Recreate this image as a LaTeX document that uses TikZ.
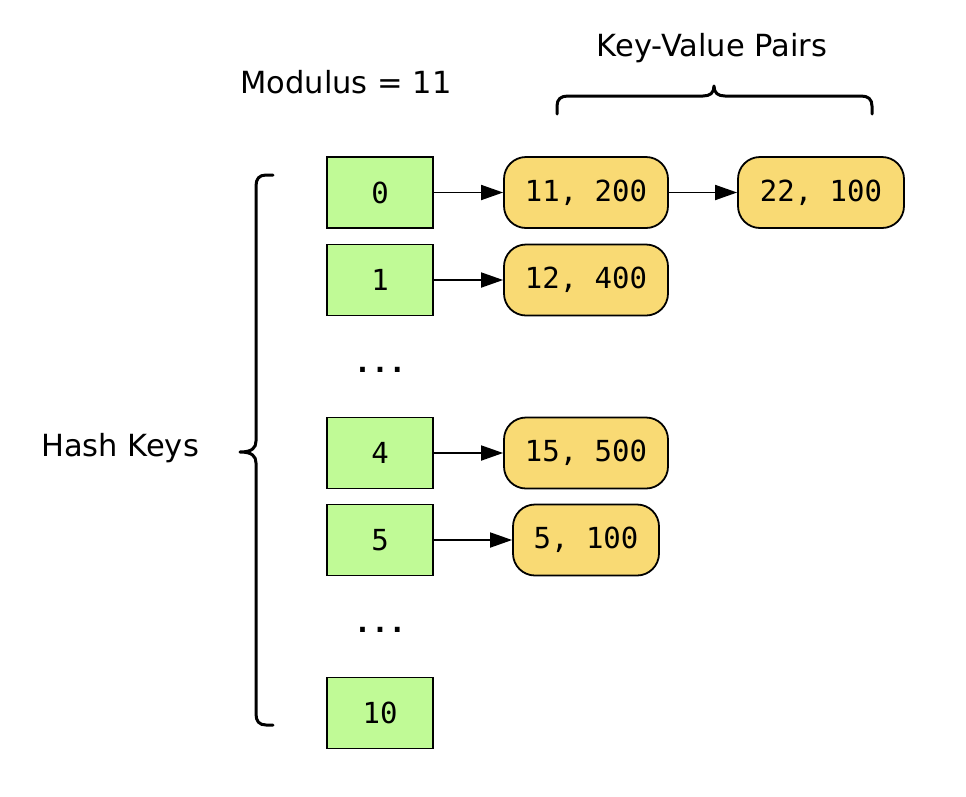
\documentclass[tikz,border=0pt]{standalone}
\usepackage{fontspec}
\setmainfont{DejaVu Sans}
\newfontfamily\monofont{DejaVu Sans Mono}
\usetikzlibrary{arrows.meta}
\definecolor{keygreen}{RGB}{192,250,150}
\definecolor{pairyellow}{RGB}{249,218,116}
\tikzset{
  keybox/.style={draw=black, line width=1.8pt, fill=keygreen, rectangle, minimum width=106pt, minimum height=71pt, inner sep=0pt, font=\monofont\fontsize{29}{34}\selectfont},
  pairbox/.style={draw=black, line width=1.8pt, fill=pairyellow, rectangle, rounded corners=22pt, minimum height=71pt, inner sep=0pt, font=\monofont\fontsize{29}{34}\selectfont},
  link/.style={line width=1.8pt, -{Triangle[length=22pt,width=15pt]}},
  label/.style={font=\fontsize{30.5}{36}\selectfont, inner sep=0pt},
  dots/.style={font=\monofont\bfseries\fontsize{29}{34}\selectfont, inner sep=0pt},
  bracepath/.style={line width=3pt, line cap=round, line join=round}
}
\begin{document}
\begin{tikzpicture}[x=1pt, y=-1pt]
\useasboundingbox (0,0) rectangle (966,796);
% hash key boxes
\node[keybox] (k0) at (380,192.5) {0};
\node[keybox] (k1) at (380,280) {1};
\node[keybox] (k4) at (380,453) {4};
\node[keybox] (k5) at (380,540) {5};
\node[keybox] (k10) at (380,713) {10};
\node[dots] (d1) at (380,370) {...};
\node[dots] (d2) at (380,630) {...};
% key-value pairs
\node[pairbox, minimum width=164pt] (p11) at (586,192.5) {11, 200};
\node[pairbox, minimum width=166pt] (p22) at (821,192.5) {22, 100};
\node[pairbox, minimum width=164pt] (p12) at (586,280) {12, 400};
\node[pairbox, minimum width=164pt] (p15) at (586,453) {15, 500};
\node[pairbox, minimum width=146pt] (p5) at (586,540) {5, 100};
% links
\draw[link] (k0) -- (p11);
\draw[link] (p11) -- (p22);
\draw[link] (k1) -- (p12);
\draw[link] (k4) -- (p15);
\draw[link] (k5) -- (p5);
% labels
\node[label] (mod) at (346,82) {Modulus = 11};
\node[label] (kvp) at (712,48) {Key-Value Pairs};
\node[label] (hk) at (120,448) {Hash Keys};
% top brace
\draw[bracepath] (557,114) -- (557,106) .. controls (557,99) and (561,96) .. (568,96)
  -- (703,96) .. controls (710,96) and (714,93) .. (714,86)
  .. controls (714,93) and (718,96) .. (725,96)
  -- (861,96) .. controls (868,96) and (872,99) .. (872,106) -- (872,114);
% left brace
\draw[bracepath] (273,175) -- (266,175) .. controls (259,175) and (256,179) .. (256,186)
  -- (256,441) .. controls (256,448) and (252,452) .. (240,452)
  .. controls (252,452) and (256,456) .. (256,463)
  -- (256,714) .. controls (256,721) and (259,725) .. (266,725) -- (273,725);
\end{tikzpicture}
\end{document}
